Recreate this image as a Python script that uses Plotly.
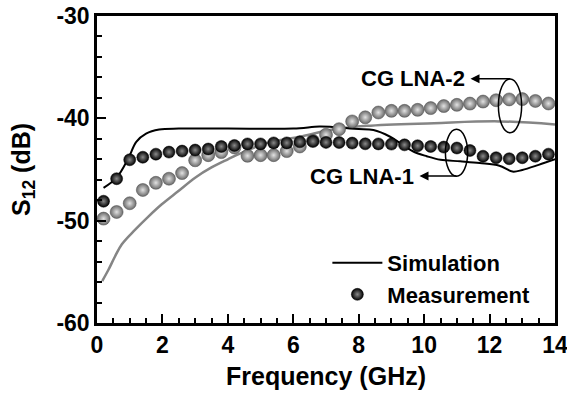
import plotly.graph_objects as go

# Measured S12 (dB) of the two common-gate LNAs
freq_meas = [0.2, 0.6, 1.0, 1.4, 1.8, 2.2, 2.6, 3.0, 3.4, 3.8, 4.2, 4.6, 5.0, 5.4,
             5.8, 6.2, 6.6, 7.0, 7.4, 7.8, 8.2, 8.6, 9.0, 9.4, 9.8, 10.2, 10.6,
             11.0, 11.4, 11.8, 12.2, 12.6, 13.0, 13.4, 13.8]
meas_lna1 = [-48.1, -45.9, -44.05, -43.8, -43.5, -43.3, -43.2, -43.1, -43.0, -42.75,
             -42.65, -42.5, -42.5, -42.4, -42.4, -42.3, -42.25, -42.35, -42.36, -42.42,
             -42.49, -42.5, -42.52, -42.59, -42.68, -42.75, -42.81, -42.9, -43.14,
             -43.7, -43.85, -43.95, -43.85, -43.7, -43.5]
meas_lna2 = [-49.8, -49.15, -48.3, -47.0, -46.3, -45.9, -45.35, -44.1, -43.6, -43.3,
             -42.85, -43.66, -43.6, -43.6, -43.2, -42.75, -42.2, -41.6, -41.06, -40.3,
             -39.9, -39.43, -39.27, -39.27, -39.17, -39.0, -38.8, -38.68, -38.56,
             -38.36, -38.23, -38.15, -38.12, -38.3, -38.55]

# Simulated S12 (dB)
freq_sim1 = [0.2, 0.6, 0.96, 1.2, 1.5, 1.9, 2.5, 4.0, 6.0, 6.8, 7.2, 7.6, 8.0, 8.45,
             8.96, 9.26, 9.67, 10.08, 10.5, 11.1, 11.7, 12.3, 12.7, 13.0, 13.5, 14.0]
sim_lna1 = [-46.8, -45.8, -43.9, -42.3, -41.5, -41.1, -41.0, -41.0, -41.0, -40.8,
            -40.85, -40.95, -41.05, -41.15, -41.8, -42.4, -43.24, -43.7, -44.05,
            -44.2, -44.37, -44.63, -45.2, -45.05, -44.55, -44.0]
freq_sim2 = [0.16, 0.35, 0.55, 0.76, 1.16, 1.57, 1.98, 2.49, 3.0, 3.5, 4.0, 4.4, 5.2,
             6.2, 7.2, 8.25, 10.3, 12.3, 14.0]
sim_lna2 = [-55.9, -54.8, -53.5, -52.3, -50.9, -49.6, -48.4, -47.1, -45.8, -44.8,
            -44.0, -43.4, -42.4, -41.8, -41.1, -40.73, -40.47, -40.3, -40.6]

x_ticks = [0, 2, 4, 6, 8, 10, 12, 14]
y_ticks = [-60, -50, -40, -30]

FONT = "Liberation Sans, Arial, sans-serif"

fig = go.Figure()

fig.add_trace(go.Scatter(x=freq_sim2, y=sim_lna2, mode="lines", showlegend=False,
                         line=dict(color="#858585", width=2.5, shape="spline")))
fig.add_trace(go.Scatter(x=freq_sim1, y=sim_lna1, mode="lines", name="Simulation",
                         line=dict(color="black", width=2, shape="spline")))
fig.add_trace(go.Scatter(x=freq_meas, y=meas_lna2, mode="markers", showlegend=False,
                         marker=dict(size=13, color="#6a6a6a",
                                     gradient=dict(type="radial", color="#e2e2e2"),
                                     line=dict(color="#4a4a4a", width=0.5))))
fig.add_trace(go.Scatter(x=freq_meas, y=meas_lna1, mode="markers", name="Measurement",
                         marker=dict(size=12, color="#000000",
                                     gradient=dict(type="radial", color="#8a8a8a"),
                                     line=dict(color="black", width=0.5))))

# Ellipses grouping each LNA's curves
fig.add_shape(type="circle", xref="x", yref="y", x0=12.27, x1=12.98, y0=-41.41, y1=-36.15,
              line=dict(color="black", width=1.5))
fig.add_shape(type="circle", xref="x", yref="y", x0=10.65, x1=11.33, y0=-45.66, y1=-41.07,
              line=dict(color="black", width=1.5))

# Labels with arrows running from each ellipse back to its label
label_font = dict(family=FONT, size=22, color="black", weight="bold")
fig.add_annotation(text="CG LNA-2", x=12.63, y=-36.12, ax=9.66, ay=-36.12,
                   xref="x", yref="y", axref="x", ayref="y",
                   showarrow=True, arrowside="start", arrowhead=2, startarrowhead=2,
                   startarrowsize=1.2, arrowwidth=1.5, arrowcolor="black",
                   startstandoff=4, font=label_font)
fig.add_annotation(text="CG LNA-1", x=10.99, y=-45.64, ax=8.10, ay=-45.64,
                   xref="x", yref="y", axref="x", ayref="y",
                   showarrow=True, arrowside="start", arrowhead=2, startarrowhead=2,
                   startarrowsize=1.2, arrowwidth=1.5, arrowcolor="black",
                   startstandoff=4, font=label_font)

axis_common = dict(showline=True, linecolor="black", linewidth=2.5, mirror=True,
                   ticks="inside", ticklen=9, tickwidth=2, tickcolor="black",
                   showgrid=False, zeroline=False, automargin=False,
                   ticklabeloverflow="allow",
                   tickfont=dict(family=FONT, size=23, color="black", weight="bold"))

fig.update_xaxes(range=[0, 14], tickvals=x_ticks, ticktext=[str(v) for v in x_ticks],
                 minor=dict(dtick=0.5, ticks="inside", ticklen=5, tickwidth=1.5,
                            tickcolor="black"),
                 title=dict(text="Frequency (GHz)", standoff=11,
                            font=dict(family=FONT, size=25, color="black", weight="bold")),
                 **axis_common)
fig.update_yaxes(range=[-60, -30], tickvals=y_ticks, ticktext=[str(v) for v in y_ticks],
                 minor=dict(dtick=2, ticks="inside", ticklen=5, tickwidth=1.5,
                            tickcolor="black"),
                 title=dict(text="S<sub>12</sub> (dB)", standoff=19,
                            font=dict(family=FONT, size=25, color="black", weight="bold")),
                 **axis_common)

fig.update_layout(
    width=567, height=397,
    margin=dict(l=97, r=12, t=16, b=74, autoexpand=False),
    paper_bgcolor="white", plot_bgcolor="white",
    showlegend=True,
    legend=dict(x=0.503, y=0.264, xanchor="left", yanchor="top",
                bgcolor="rgba(0,0,0,0)", itemsizing="trace", itemwidth=50,
                font=dict(family=FONT, size=22, color="black", weight="bold")),
)

fig.write_html("out.html")
